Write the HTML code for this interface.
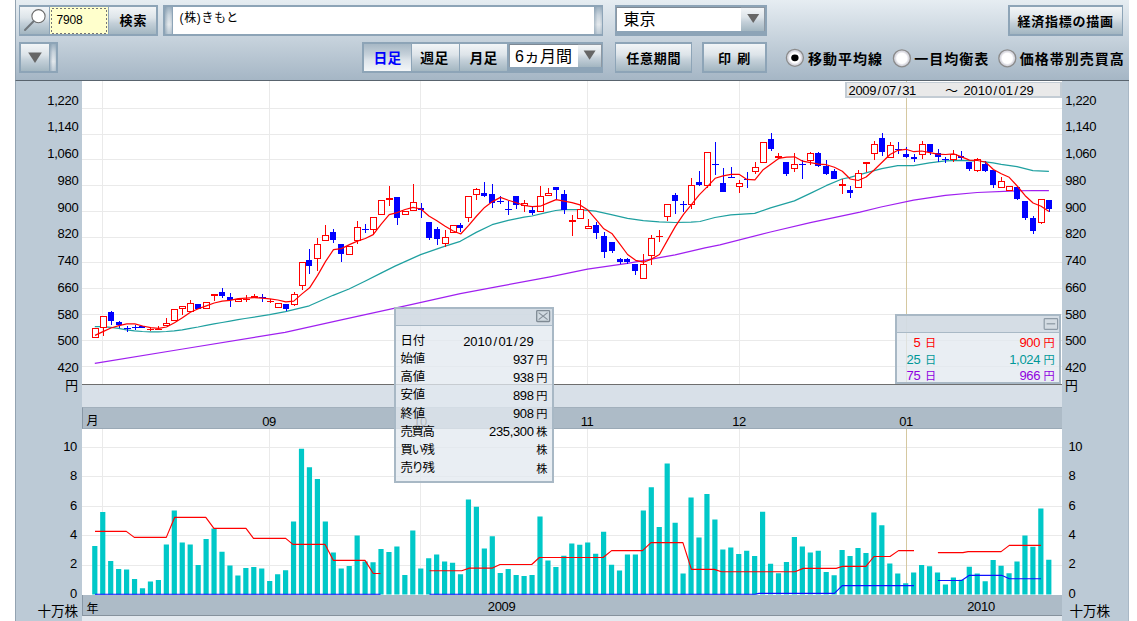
<!DOCTYPE html>
<html lang="ja"><head><meta charset="utf-8"><title>7908 (株)きもと - チャート</title>
<style>
html,body{margin:0;padding:0;background:#fff;}
body{width:1137px;height:621px;position:relative;overflow:hidden;font-family:"Liberation Sans",sans-serif;font-size:13px;color:#000;}
svg text{font-family:"Liberation Sans","Noto Sans CJK JP",sans-serif;}
.abs{position:absolute;box-sizing:border-box;}
#toolbar{left:15px;top:0;width:1113.5px;height:81px;border-left:1px solid #93a3b1;border-bottom:1px solid #59646e;background:linear-gradient(#e6edf2,#a5b6c5);}
.frame{background:#8da4b7;}
.btn{background:linear-gradient(#f2f5f7 0%,#dde4e9 40%,#c4d0d9 60%,#a3b6c1 100%);}
.btn.sel{background:linear-gradient(#a7b8c5 0%,#c6d1da 40%,#dde4ea 60%,#f3f6f8 100%);}
.grip{background:linear-gradient(90deg,rgba(120,145,165,.5),rgba(255,255,255,0) 45%,rgba(255,255,255,0) 70%,rgba(120,145,165,.25)),linear-gradient(180deg,#9db1c1 0%,#c9d4dd 30%,#e3e8ec 65%,#bccad5 100%);}
.white{background:#fff;}
#axisL{left:15px;top:81px;width:67px;height:540px;background:#bccad6;border-left:1px solid #93a3b1;}
#axisR{left:1062px;top:81px;width:66.5px;height:540px;background:#bccad6;border-right:1px solid #a9b8c6;}
#plot{left:82px;top:81px;width:980px;height:304px;background:#fff;border-bottom:1px solid #6e6e6e;}
#band1{left:82px;top:385px;width:980px;height:22px;background:#d8e0e8;}
#band2{left:82px;top:406.5px;width:980px;height:22px;background:#adbbc7;border-left:1px solid #8897a5;border-top:1px solid #a2b0bc;border-bottom:1px solid #9aa9b6;}
#vol{left:82px;top:428.5px;width:980px;height:166px;background:#fff;}
#band3{left:82px;top:594.8px;width:980px;height:21.5px;background:#adbbc7;border-left:1px solid #8897a5;border-bottom:1px solid #86929d;}
#band4{left:82px;top:616.3px;width:980px;height:5px;background:#e3e9ef;}
#range{left:844.5px;top:81.5px;width:217px;height:16.5px;background:#e9e9e9;border:2px solid #c3ccd4;border-top-width:1px;}
.pop{background:rgba(227,233,239,0.77);border:2px solid #a8b8c5;}
.pop .bar{position:absolute;left:0;top:0;right:0;background:rgba(205,215,224,0.75);border-bottom:1.4px solid #a9b9c6;}
.ov{position:absolute;left:0;top:0;}
.radio{position:absolute;width:17.4px;height:17.4px;border-radius:50%;background:radial-gradient(circle closest-side at 50% 50%,#fff 0,#fff 66%,#dcdcdc 76%,#8e8e8e 86%,#8e8e8e 94%,rgba(142,142,142,0) 100%);box-sizing:border-box;}
.radio.on::after{content:"";position:absolute;left:4.9px;top:4.9px;width:7.6px;height:7.6px;border-radius:50%;background:#000;}
</style></head><body>
<div id="toolbar" class="abs"></div>
<!-- row 1 -->
<div class="abs frame" style="left:18.6px;top:5.2px;width:139px;height:30.6px"></div>
<div role="button" aria-label="検索アイコン" class="abs btn" style="left:20.3px;top:7px;width:29px;height:27.2px"></div>
<div class="abs" style="left:50.2px;top:7px;width:57.6px;height:27.2px;background:#ffffcc;"></div>

<div role="button" aria-label="検索" class="abs btn" style="left:108.6px;top:7px;width:47.4px;height:27.2px"></div>
<div class="abs frame" style="left:163px;top:5.2px;width:440.2px;height:30.6px"></div>
<div class="abs grip" style="left:164.8px;top:7px;width:7px;height:27.2px"></div>
<div class="abs white" style="left:172.8px;top:7px;width:421.4px;height:27.2px"></div>
<div class="abs grip" style="left:594.4px;top:7px;width:7.4px;height:27.2px"></div>
<div class="abs frame" style="left:614.5px;top:5.2px;width:152px;height:30.6px"></div>
<div class="abs white" style="left:616.2px;top:6.8px;width:125px;height:24px;border-top:1px solid #7d8893;border-left:1px solid #8d98a3"></div>
<div class="abs btn" style="left:741.2px;top:6.8px;width:24px;height:24px;border-top:1px solid #8d98a3;border-right:1px solid #8d98a3"></div>
<div class="abs frame" style="left:1008.3px;top:5px;width:115px;height:30.8px"></div>
<div role="button" aria-label="経済指標の描画" class="abs btn" style="left:1010px;top:6.8px;width:111.6px;height:27.2px"></div>
<!-- row 2 -->
<div class="abs frame" style="left:18.8px;top:42.2px;width:39px;height:30.4px"></div>
<div class="abs btn" style="left:20.5px;top:44px;width:28.6px;height:26.8px"></div>
<div class="abs grip" style="left:50px;top:44px;width:6.2px;height:26.8px"></div>
<div class="abs frame" style="left:362px;top:42.2px;width:241.2px;height:30.4px"></div>
<div role="button" aria-pressed="true" aria-label="日足" class="abs btn sel" style="left:364px;top:44px;width:46.8px;height:26.8px"></div>
<div role="button" aria-label="週足" class="abs btn" style="left:412px;top:44px;width:46.8px;height:26.8px"></div>
<div role="button" aria-label="月足" class="abs btn" style="left:460px;top:44px;width:47px;height:26.8px"></div>
<div class="abs white" style="left:509.2px;top:43.8px;width:68.4px;height:23.6px;border-top:1px solid #7d8893;border-left:1px solid #8d98a3"></div>
<div class="abs btn" style="left:577.6px;top:43.8px;width:24.4px;height:23.6px;border-top:1px solid #8d98a3;border-right:1px solid #8d98a3"></div>
<div class="abs frame" style="left:614.5px;top:42.2px;width:77.8px;height:30.4px"></div>
<div role="button" aria-label="任意期間" class="abs btn" style="left:616.2px;top:44px;width:74.4px;height:26.8px"></div>
<div class="abs frame" style="left:701.8px;top:42.2px;width:64.8px;height:30.4px"></div>
<div role="button" aria-label="印刷" class="abs btn" style="left:703.5px;top:44px;width:61.4px;height:26.8px"></div>
<!-- chart panels -->
<div id="axisL" class="abs"></div><div id="axisR" class="abs"></div>
<div id="plot" class="abs"></div><div id="band1" class="abs"></div><div id="band2" class="abs"></div>
<div id="vol" class="abs"></div><div id="band3" class="abs"></div><div id="band4" class="abs"></div>
<svg class="ov" width="1137" height="621" viewBox="0 0 1137 621"><path d="M82 108.5H1062M82 134.5H1062M82 159.5H1062M82 185.5H1062M82 211.5H1062M82 237.5H1062M82 262.5H1062M82 288.5H1062M82 314.5H1062M82 340.5H1062M82 366.5H1062M82 447.5H1062M82 476.5H1062M82 506.5H1062M82 535.5H1062M82 565.5H1062M102.5 81V384M102.5 429V594M269.5 81V384M269.5 429V594M420.5 81V384M420.5 429V594M587.5 81V384M587.5 429V594M739.5 81V384M739.5 429V594" stroke="#eaeaea" stroke-width="1" fill="none" shape-rendering="crispEdges"/><path d="M906.5 81V384M906.5 429V594" stroke="#d5c8a0" stroke-width="1" fill="none" shape-rendering="crispEdges"/><path d="M92.20 594.4v-48.4h5.2v48.4zM100.15 594.4v-82.3h5.2v82.3zM108.10 594.4v-33.4h5.2v33.4zM116.05 594.4v-25.5h5.2v25.5zM124.00 594.4v-25.0h5.2v25.0zM131.95 594.4v-15.3h5.2v15.3zM139.90 594.4v-6.2h5.2v6.2zM147.85 594.4v-12.8h5.2v12.8zM155.80 594.4v-14.4h5.2v14.4zM163.75 594.4v-49.8h5.2v49.8zM171.70 594.4v-83.9h5.2v83.9zM179.65 594.4v-51.9h5.2v51.9zM187.60 594.4v-49.8h5.2v49.8zM195.55 594.4v-29.4h5.2v29.4zM203.50 594.4v-55.4h5.2v55.4zM211.45 594.4v-66.0h5.2v66.0zM219.40 594.4v-42.6h5.2v42.6zM227.35 594.4v-29.0h5.2v29.0zM235.30 594.4v-19.0h5.2v19.0zM243.25 594.4v-26.4h5.2v26.4zM251.20 594.4v-27.3h5.2v27.3zM259.15 594.4v-26.0h5.2v26.0zM267.10 594.4v-13.5h5.2v13.5zM275.05 594.4v-20.2h5.2v20.2zM283.00 594.4v-24.2h5.2v24.2zM290.95 594.4v-72.9h5.2v72.9zM298.90 594.4v-145.6h5.2v145.6zM306.85 594.4v-127.1h5.2v127.1zM314.80 594.4v-115.5h5.2v115.5zM322.75 594.4v-72.9h5.2v72.9zM330.70 594.4v-42.0h5.2v42.0zM338.65 594.4v-25.8h5.2v25.8zM346.60 594.4v-28.4h5.2v28.4zM354.55 594.4v-58.8h5.2v58.8zM362.50 594.4v-33.0h5.2v33.0zM370.45 594.4v-32.2h5.2v32.2zM378.40 594.4v-45.4h5.2v45.4zM386.35 594.4v-42.5h5.2v42.5zM394.30 594.4v-47.9h5.2v47.9zM402.25 594.4v-19.3h5.2v19.3zM410.20 594.4v-63.9h5.2v63.9zM418.15 594.4v-25.8h5.2v25.8zM426.10 594.4v-36.1h5.2v36.1zM434.05 594.4v-39.9h5.2v39.9zM442.00 594.4v-33.0h5.2v33.0zM449.95 594.4v-31.7h5.2v31.7zM457.90 594.4v-20.1h5.2v20.1zM465.85 594.4v-94.8h5.2v94.8zM473.80 594.4v-87.6h5.2v87.6zM481.75 594.4v-45.9h5.2v45.9zM489.70 594.4v-58.2h5.2v58.2zM497.65 594.4v-21.4h5.2v21.4zM505.60 594.4v-25.3h5.2v25.3zM513.55 594.4v-19.3h5.2v19.3zM521.50 594.4v-18.3h5.2v18.3zM529.45 594.4v-19.3h5.2v19.3zM537.40 594.4v-77.8h5.2v77.8zM545.35 594.4v-33.8h5.2v33.8zM553.30 594.4v-27.3h5.2v27.3zM561.25 594.4v-38.7h5.2v38.7zM569.20 594.4v-51.0h5.2v51.0zM577.15 594.4v-49.7h5.2v49.7zM585.10 594.4v-51.8h5.2v51.8zM593.05 594.4v-40.7h5.2v40.7zM601.00 594.4v-62.6h5.2v62.6zM608.95 594.4v-29.6h5.2v29.6zM616.90 594.4v-24.0h5.2v24.0zM624.85 594.4v-39.9h5.2v39.9zM632.80 594.4v-39.9h5.2v39.9zM640.75 594.4v-84.0h5.2v84.0zM648.70 594.4v-107.2h5.2v107.2zM656.65 594.4v-67.3h5.2v67.3zM664.60 594.4v-130.9h5.2v130.9zM672.55 594.4v-71.6h5.2v71.6zM680.50 594.4v-20.9h5.2v20.9zM688.45 594.4v-96.9h5.2v96.9zM696.40 594.4v-57.0h5.2v57.0zM704.35 594.4v-100.5h5.2v100.5zM712.30 594.4v-75.0h5.2v75.0zM720.25 594.4v-44.8h5.2v44.8zM728.20 594.4v-46.9h5.2v46.9zM736.15 594.4v-40.5h5.2v40.5zM744.10 594.4v-43.6h5.2v43.6zM752.05 594.4v-38.4h5.2v38.4zM760.00 594.4v-82.7h5.2v82.7zM767.95 594.4v-30.7h5.2v30.7zM775.90 594.4v-21.1h5.2v21.1zM783.85 594.4v-32.5h5.2v32.5zM791.80 594.4v-57.5h5.2v57.5zM799.75 594.4v-47.9h5.2v47.9zM807.70 594.4v-42.0h5.2v42.0zM815.65 594.4v-43.6h5.2v43.6zM823.60 594.4v-22.4h5.2v22.4zM831.55 594.4v-19.1h5.2v19.1zM839.50 594.4v-44.3h5.2v44.3zM847.45 594.4v-38.4h5.2v38.4zM855.40 594.4v-46.4h5.2v46.4zM863.35 594.4v-41.5h5.2v41.5zM871.30 594.4v-82.0h5.2v82.0zM879.25 594.4v-69.1h5.2v69.1zM887.20 594.4v-30.9h5.2v30.9zM895.15 594.4v-20.9h5.2v20.9zM903.10 594.4v-11.1h5.2v11.1zM911.05 594.4v-21.9h5.2v21.9zM919.00 594.4v-29.4h5.2v29.4zM926.95 594.4v-28.1h5.2v28.1zM934.90 594.4v-21.9h5.2v21.9zM942.85 594.4v-10.0h5.2v10.0zM950.80 594.4v-17.0h5.2v17.0zM958.75 594.4v-14.7h5.2v14.7zM966.70 594.4v-27.6h5.2v27.6zM974.65 594.4v-20.9h5.2v20.9zM982.60 594.4v-13.1h5.2v13.1zM990.55 594.4v-34.5h5.2v34.5zM998.50 594.4v-28.6h5.2v28.6zM1006.45 594.4v-21.1h5.2v21.1zM1014.40 594.4v-33.0h5.2v33.0zM1022.35 594.4v-58.8h5.2v58.8zM1030.30 594.4v-47.7h5.2v47.7zM1038.25 594.4v-85.8h5.2v85.8zM1046.20 594.4v-34.6h5.2v34.6z" fill="#00c8c8"/><polyline points="95.0,531.4 126.3,531.4 134.3,537.4 166.3,537.4 174.7,517.3 205.8,517.3 213.9,528.4 246.0,528.4 253.5,538.4 285.7,538.4 292.9,544.4 325.1,544.4 333.4,560.4 365.0,560.4 373.3,573.5 380.5,573.5" fill="none" stroke="#ff0000" stroke-width="1.15" stroke-linejoin="round"/><polyline points="429.5,570.7 461.7,570.7 469.4,568.1 492.5,568.1 500.0,564.5 531.7,564.5 539.4,557.5 603.1,557.5 611.6,550.6 642.5,550.6 651.0,542.6 682.9,542.6 691.4,569.4 714.3,569.4 721.5,571.7 795.0,571.7 803.2,568.4 836.2,568.4 842.7,566.3 865.9,566.3 874.0,556.5 890.0,556.5 898.5,550.6 914.0,550.6" fill="none" stroke="#ff0000" stroke-width="1.15" stroke-linejoin="round"/><polyline points="937.9,552.6 962.9,552.6 968.1,551.6 1001.1,551.6 1009.3,545.4 1041.0,545.4" fill="none" stroke="#ff0000" stroke-width="1.15" stroke-linejoin="round"/><polyline points="95.0,594.2 380.5,594.2" fill="none" stroke="#1010ff" stroke-width="1.15" stroke-linejoin="round"/><polyline points="429.5,594.2 755.0,594.2 758.9,593.4 834.4,593.4 842.2,585.6 914.0,585.6" fill="none" stroke="#1010ff" stroke-width="1.15" stroke-linejoin="round"/><polyline points="937.9,580.5 961.6,580.5 969.4,575.3 1001.6,575.3 1009.3,578.7 1041.0,578.7" fill="none" stroke="#1010ff" stroke-width="1.15" stroke-linejoin="round"/><polyline points="94.8,363.4 182.8,349.0 285.0,332.3 341.3,319.8 395.0,308.1 409.9,304.8 460.3,293.6 500.3,286.1 550.0,276.8 587.5,269.2 627.5,263.3 651.3,259.1 675.1,254.9 705.0,247.9 719.9,244.8 770.5,232.0 810.3,222.6 860.0,212.1 881.0,207.0 913.6,200.2 945.4,195.3 977.2,192.5 1010.0,191.1 1032.9,190.5 1048.9,190.5" fill="none" stroke="#a020f0" stroke-width="1.25" stroke-linejoin="round"/><polyline points="94.8,326.6 102.7,326.7 110.8,327.4 118.6,328.4 126.5,329.8 134.5,330.8 142.4,331.5 150.3,331.9 158.3,331.9 166.3,331.5 174.2,330.8 182.2,329.8 190.3,328.4 198.1,327.0 206.2,325.3 214.0,323.9 222.1,322.5 230.0,321.1 238.0,319.7 245.0,318.5 269.6,314.7 285.5,311.6 309.3,305.8 333.1,295.3 349.0,289.0 364.9,281.3 381.0,273.1 390.0,268.6 395.0,266.1 420.6,254.6 444.4,246.4 460.3,241.3 476.2,232.4 492.1,224.7 508.2,220.3 524.1,217.2 532.0,216.0 545.0,212.9 555.7,210.5 563.7,209.6 579.6,209.6 595.5,211.2 611.3,214.7 627.5,218.3 643.3,220.6 659.2,221.8 675.1,222.5 691.0,222.2 700.0,221.5 714.9,217.5 730.8,214.9 754.7,213.3 770.5,207.9 794.4,200.9 810.3,193.4 826.1,185.7 842.0,179.0 850.0,177.4 865.9,172.8 881.8,168.6 897.7,165.7 913.6,165.7 929.5,162.9 945.4,160.8 961.3,160.4 977.2,161.1 985.1,161.9 993.1,162.9 1001.2,164.4 1017.0,166.7 1032.9,170.6 1048.9,171.4" fill="none" stroke="#1fa0a0" stroke-width="1.25" stroke-linejoin="round"/><g shape-rendering="crispEdges"><path d="M103.5 328V336M150.5 327V329M150.5 329V331M147.0 329.5h7M158.5 326V329M155.0 329.5h7M166.5 318V323M182.5 309V315M190.5 300V303M206.5 302V302M214.5 296V301M238.5 298V299M246.5 295V299M246.5 299V302M243.0 299.5h7M254.5 294V296M270.5 299V301M270.5 301V303M267.0 301.5h7M294.5 292V294M294.5 305V306M302.5 286V290M317.5 238V244M317.5 259V271M325.5 225V235M357.5 221V227M357.5 241V244M373.5 230V235M381.5 215V215M389.5 186V198M389.5 200V206M413.5 184V202M445.5 230V237M445.5 244V247M468.5 218V222M476.5 188V189M476.5 195V200M524.5 200V203M524.5 206V212M540.5 186V196M548.5 188V193M572.5 215V220M572.5 221V236M580.5 200V209M588.5 219V226M643.5 254V264M651.5 235V238M651.5 256V265M659.5 230V236M659.5 236V242M656.0 236.5h7M667.5 217V221M691.5 178V185M691.5 205V209M707.5 186V188M739.5 180V183M739.5 187V193M755.5 162V167M755.5 172V174M778.5 153V156M778.5 157V159M794.5 153V164M794.5 169V172M810.5 152V153M810.5 161V165M842.5 179V184M842.5 185V194M858.5 170V173M866.5 163V172M874.5 141V144M874.5 154V160M890.5 142V145M922.5 141V144M922.5 155V159M953.5 150V154M953.5 160V162M977.5 158V159M977.5 171V172M1001.5 177V181M1041.5 223V224" stroke="#ff0000" stroke-width="1" fill="none"/><path d="M92.5 328.5h6v9h-6zM100.5 316.5h6v11h-6zM163.5 323.5h6v2h-6zM171.5 309.5h6v11h-6zM179.5 306.5h6v2h-6zM187.5 303.5h6v8h-6zM203.5 302.5h6v6h-6zM211.5 294.5h6v1h-6zM235.5 299.5h6v2h-6zM251.5 296.5h6v1h-6zM275.5 303.5h6v4h-6zM291.5 294.5h6v10h-6zM299.5 262.5h6v23h-6zM314.5 244.5h6v14h-6zM322.5 235.5h6v5h-6zM346.5 246.5h6v8h-6zM354.5 227.5h6v13h-6zM370.5 217.5h6v12h-6zM378.5 200.5h6v14h-6zM386.5 198.5h6v1h-6zM402.5 211.5h6v3h-6zM410.5 202.5h6v8h-6zM442.5 237.5h6v6h-6zM450.5 225.5h6v7h-6zM465.5 196.5h6v21h-6zM473.5 189.5h6v5h-6zM521.5 203.5h6v2h-6zM537.5 196.5h6v15h-6zM545.5 193.5h6v2h-6zM569.5 220.5h6v1h-6zM577.5 209.5h6v9h-6zM585.5 226.5h6v2h-6zM640.5 264.5h6v14h-6zM648.5 238.5h6v17h-6zM664.5 204.5h6v12h-6zM688.5 185.5h6v19h-6zM704.5 152.5h6v33h-6zM736.5 183.5h6v3h-6zM752.5 167.5h6v4h-6zM760.5 142.5h6v20h-6zM775.5 156.5h6v1h-6zM791.5 164.5h6v4h-6zM807.5 153.5h6v7h-6zM839.5 184.5h6v1h-6zM855.5 173.5h6v14h-6zM863.5 162.5h6v1h-6zM871.5 144.5h6v9h-6zM887.5 145.5h6v12h-6zM919.5 144.5h6v10h-6zM950.5 154.5h6v5h-6zM974.5 159.5h6v11h-6zM998.5 181.5h6v6h-6zM1006.5 186.5h6v4h-6zM1038.5 199.5h6v23h-6z" stroke="#ff0000" stroke-width="1" fill="#fff"/><path d="M111.5 311V325M119.5 321V328M127.5 326V332M124.0 328.5h7M135.5 325V330M132.0 327.5h7M142.5 326V328M198.5 304V309M222.5 288V298M230.5 293V307M262.5 294V302M259.0 297.5h7M286.5 304V311M309.5 249V274M333.5 229V243M341.5 244V262M365.5 224V233M362.0 229.5h7M397.5 197V225M421.5 203V218M429.5 222V240M437.5 227V245M460.5 223V232M484.5 182V197M492.5 184V208M500.5 196V204M497.0 201.5h7M508.5 201V215M505.0 209.5h7M516.5 196V209M532.5 207V215M556.5 187V199M564.5 190V214M596.5 222V239M604.5 232V258M612.5 242V253M620.5 258V264M627.5 258V264M635.5 264V275M675.5 193V214M683.5 201V212M680.0 204.5h7M699.5 171V186M715.5 142V175M712.0 164.5h7M723.5 168V192M731.5 167V177M728.0 177.5h7M747.5 172V188M744.0 179.5h7M771.5 133V151M786.5 162V176M802.5 160V179M799.0 164.5h7M818.5 152V167M826.5 160V175M834.5 169V179M850.5 186V198M882.5 133V156M898.5 142V154M895.0 149.5h7M906.5 147V158M914.5 154V162M930.5 144V155M938.5 149V162M945.5 157V163M942.0 159.5h7M961.5 151V160M969.5 162V171M985.5 161V172M993.5 170V188M1017.5 187V200M1025.5 201V220M1033.5 216V234M1049.5 200V212" stroke="#0000ff" stroke-width="1" fill="none"/><path d="M108.0 312h6v9h-6zM116.0 322h6v3h-6zM139.0 326h6v2h-6zM195.0 304h6v5h-6zM219.0 292h6v4h-6zM227.0 297h6v3h-6zM283.0 304h6v5h-6zM306.0 260h6v6h-6zM330.0 232h6v8h-6zM338.0 244h6v10h-6zM394.0 197h6v21h-6zM418.0 208h6v2h-6zM426.0 222h6v16h-6zM434.0 229h6v10h-6zM457.0 225h6v3h-6zM481.0 193h6v3h-6zM489.0 194h6v9h-6zM513.0 196h6v9h-6zM529.0 210h6v3h-6zM553.0 187h6v3h-6zM561.0 194h6v16h-6zM593.0 225h6v8h-6zM601.0 236h6v16h-6zM609.0 242h6v9h-6zM617.0 259h6v3h-6zM624.0 259h6v3h-6zM632.0 264h6v7h-6zM672.0 195h6v6h-6zM696.0 182h6v3h-6zM720.0 183h6v9h-6zM768.0 139h6v10h-6zM783.0 162h6v12h-6zM815.0 153h6v13h-6zM823.0 166h6v8h-6zM831.0 171h6v8h-6zM847.0 190h6v3h-6zM879.0 138h6v14h-6zM903.0 154h6v3h-6zM911.0 157h6v2h-6zM927.0 144h6v8h-6zM935.0 153h6v4h-6zM958.0 156h6v2h-6zM966.0 162h6v7h-6zM982.0 164h6v7h-6zM990.0 170h6v15h-6zM1014.0 187h6v12h-6zM1022.0 201h6v17h-6zM1030.0 218h6v13h-6zM1046.0 200h6v9h-6z" fill="#0000ff"/></g><polyline points="95.0,335.4 103.0,331.6 110.9,328.0 118.9,325.6 126.8,323.9 134.8,323.9 142.7,326.0 150.6,327.7 158.6,328.4 166.5,327.0 174.5,322.8 182.4,317.8 190.4,312.2 198.3,308.7 206.3,305.9 214.2,303.0 222.2,301.2 230.1,300.3 238.1,298.6 246.1,298.1 254.0,297.6 261.9,298.1 269.9,298.8 277.8,300.0 285.8,301.8 293.8,301.1 301.7,294.1 309.6,287.8 317.6,275.4 325.6,261.4 333.5,249.7 341.4,248.6 349.4,244.6 357.4,241.1 365.3,238.5 373.2,234.6 381.2,224.1 389.2,214.7 397.1,212.6 405.1,209.5 413.0,207.4 420.9,209.0 428.9,216.0 436.9,220.7 444.8,225.9 452.8,230.8 460.7,234.0 468.7,225.4 476.6,216.0 484.6,207.4 492.5,201.6 500.4,197.4 508.4,200.2 516.4,202.7 524.3,205.5 532.2,206.7 540.2,206.2 548.2,202.9 556.1,199.6 564.1,201.2 572.0,202.6 580.0,204.9 587.9,210.1 595.9,219.4 603.8,228.8 611.8,233.4 619.7,243.9 627.6,254.5 635.6,260.3 643.6,262.2 651.5,259.1 659.5,254.5 667.4,240.4 675.4,226.4 683.3,214.7 691.2,204.9 699.2,194.9 707.1,186.9 715.1,178.3 723.1,175.9 731.0,174.3 739.0,174.3 746.9,179.4 754.9,179.9 762.8,170.1 770.8,164.2 778.7,158.4 786.6,157.2 794.6,156.8 802.6,161.2 810.5,162.6 818.5,164.2 826.4,164.7 834.4,167.3 842.3,171.2 850.2,179.0 858.2,180.5 866.1,177.0 874.1,170.0 882.1,162.2 890.0,154.5 898.0,150.3 905.9,149.3 913.9,151.7 921.8,151.0 929.8,152.6 937.7,154.2 945.6,154.5 953.6,153.8 961.6,156.9 969.5,160.1 977.5,160.5 985.4,162.0 993.4,169.5 1001.3,173.8 1009.2,177.3 1017.2,186.0 1025.2,195.7 1033.1,203.0 1041.1,206.3 1049.0,211.5" fill="none" stroke="#ff0000" stroke-width="1.2" stroke-linejoin="round"/></svg>
<div id="range" class="abs"></div>
<svg class="ov" width="1137" height="621" viewBox="0 0 1137 621">
<!-- icons -->
<defs><radialGradient id="rg" cx="50%" cy="50%" r="50%"><stop offset="0" stop-color="#fff"/><stop offset="0.6" stop-color="#fff"/><stop offset="0.78" stop-color="#dcdce3"/><stop offset="1" stop-color="#d2d2da"/></radialGradient></defs>
<g><circle cx="794.9" cy="57.8" r="8.5" fill="url(#rg)" stroke="#8b8b8b" stroke-width="1.3"/><ellipse cx="794.9" cy="57.8" rx="3.7" ry="3.35"/>
<circle cx="901.9" cy="58.3" r="8.5" fill="url(#rg)" stroke="#8b8b8b" stroke-width="1.3"/>
<circle cx="1007.3" cy="58.3" r="8.5" fill="url(#rg)" stroke="#8b8b8b" stroke-width="1.3"/></g>

<circle cx="38.5" cy="16.2" r="6.6" fill="#fff" stroke="#6a6a6a" stroke-width="1.1"/>
<line x1="33.6" y1="21.2" x2="25" y2="30" stroke="#70767c" stroke-width="2" stroke-linecap="round"/>
<rect x="51.5" y="8.5" width="55" height="24.5" fill="none" stroke="#777" stroke-width="1" stroke-dasharray="2 2" shape-rendering="crispEdges"/>
<path d="M28.2 52.6h13.6l-6.8 10.4z" fill="#666"/>
<path d="M747.2 14h12l-6 9z" fill="#666"/>
<path d="M583.6 50.6h12l-6 9.2z" fill="#666"/>
<text x="56.40" y="23.80" font-size="12" fill="#000" text-anchor="start" letter-spacing="-0.1">7908</text><text x="119.40" y="25.20" font-size="13" font-weight="bold" fill="#000" letter-spacing="1">検索</text><text x="179.60" y="21.80" font-size="12" fill="#000" letter-spacing="0.6">(株)きもと</text><text x="623.50" y="24.60" font-size="16" fill="#000">東京</text><text x="1017.60" y="25.60" font-size="13" font-weight="bold" fill="#000" letter-spacing="0.75">経済指標の描画</text><text x="373.40" y="62.90" font-size="13.8" font-weight="bold" fill="#0000ff" letter-spacing="0.4">日足</text><text x="420.20" y="62.90" font-size="13.8" font-weight="bold" fill="#000" letter-spacing="0.4">週足</text><text x="469.40" y="62.90" font-size="13.8" font-weight="bold" fill="#000" letter-spacing="0.4">月足</text><text x="515.00" y="61.60" font-size="16" fill="#000">6ヵ月間</text><text x="626.30" y="63.00" font-size="13" font-weight="bold" fill="#000" letter-spacing="0.75">任意期間</text><text x="718.10" y="63.00" font-size="13" font-weight="bold" fill="#000" letter-spacing="1.3" xml:space="preserve">印 刷</text><text x="808.00" y="63.60" font-size="14" font-weight="bold" fill="#000" letter-spacing="1">移動平均線</text><text x="914.20" y="63.60" font-size="14" font-weight="bold" fill="#000" letter-spacing="1">一目均衡表</text><text x="1019.80" y="63.60" font-size="14" font-weight="bold" fill="#000" letter-spacing="1">価格帯別売買高</text><text x="848.50" y="95.00" font-size="13" fill="#000" text-anchor="start" letter-spacing="-0.35">2009<tspan dx="1.45">/</tspan><tspan dx="1.45">07</tspan><tspan dx="1.45">/</tspan><tspan dx="1.45">31</tspan></text><text x="945.00" y="94.60" font-size="13" fill="#000">～</text><text x="963.40" y="95.00" font-size="13" fill="#000" text-anchor="start" letter-spacing="-0.05">2010<tspan dx="1.45">/</tspan><tspan dx="1.45">01</tspan><tspan dx="1.45">/</tspan><tspan dx="1.45">29</tspan></text><text x="78.40" y="104.50" font-size="13" fill="#000" text-anchor="end" letter-spacing="-0.3">1,220</text><text x="1065.20" y="104.50" font-size="13" fill="#000" text-anchor="start" letter-spacing="-0.3">1,220</text><text x="78.40" y="131.26" font-size="13" fill="#000" text-anchor="end" letter-spacing="-0.3">1,140</text><text x="1065.20" y="131.26" font-size="13" fill="#000" text-anchor="start" letter-spacing="-0.3">1,140</text><text x="78.40" y="158.02" font-size="13" fill="#000" text-anchor="end" letter-spacing="-0.3">1,060</text><text x="1065.20" y="158.02" font-size="13" fill="#000" text-anchor="start" letter-spacing="-0.3">1,060</text><text x="78.40" y="184.78" font-size="13" fill="#000" text-anchor="end" letter-spacing="-0.3">980</text><text x="1065.20" y="184.78" font-size="13" fill="#000" text-anchor="start" letter-spacing="-0.3">980</text><text x="78.40" y="211.54" font-size="13" fill="#000" text-anchor="end" letter-spacing="-0.3">900</text><text x="1065.20" y="211.54" font-size="13" fill="#000" text-anchor="start" letter-spacing="-0.3">900</text><text x="78.40" y="238.30" font-size="13" fill="#000" text-anchor="end" letter-spacing="-0.3">820</text><text x="1065.20" y="238.30" font-size="13" fill="#000" text-anchor="start" letter-spacing="-0.3">820</text><text x="78.40" y="265.06" font-size="13" fill="#000" text-anchor="end" letter-spacing="-0.3">740</text><text x="1065.20" y="265.06" font-size="13" fill="#000" text-anchor="start" letter-spacing="-0.3">740</text><text x="78.40" y="291.82" font-size="13" fill="#000" text-anchor="end" letter-spacing="-0.3">660</text><text x="1065.20" y="291.82" font-size="13" fill="#000" text-anchor="start" letter-spacing="-0.3">660</text><text x="78.40" y="318.58" font-size="13" fill="#000" text-anchor="end" letter-spacing="-0.3">580</text><text x="1065.20" y="318.58" font-size="13" fill="#000" text-anchor="start" letter-spacing="-0.3">580</text><text x="78.40" y="345.34" font-size="13" fill="#000" text-anchor="end" letter-spacing="-0.3">500</text><text x="1065.20" y="345.34" font-size="13" fill="#000" text-anchor="start" letter-spacing="-0.3">500</text><text x="78.40" y="372.10" font-size="13" fill="#000" text-anchor="end" letter-spacing="-0.3">420</text><text x="1065.20" y="372.10" font-size="13" fill="#000" text-anchor="start" letter-spacing="-0.3">420</text><text x="65.30" y="389.80" font-size="12.8" fill="#000">円</text><text x="1064.90" y="389.80" font-size="12.8" fill="#000">円</text><text x="77.00" y="450.70" font-size="13" fill="#000" text-anchor="end" letter-spacing="-0.3">10</text><text x="1068.40" y="450.70" font-size="13" fill="#000" text-anchor="start" letter-spacing="-0.3">10</text><text x="77.00" y="480.13" font-size="13" fill="#000" text-anchor="end" letter-spacing="-0.3">8</text><text x="1068.40" y="480.13" font-size="13" fill="#000" text-anchor="start" letter-spacing="-0.3">8</text><text x="77.00" y="509.56" font-size="13" fill="#000" text-anchor="end" letter-spacing="-0.3">6</text><text x="1068.40" y="509.56" font-size="13" fill="#000" text-anchor="start" letter-spacing="-0.3">6</text><text x="77.00" y="538.99" font-size="13" fill="#000" text-anchor="end" letter-spacing="-0.3">4</text><text x="1068.40" y="538.99" font-size="13" fill="#000" text-anchor="start" letter-spacing="-0.3">4</text><text x="77.00" y="568.42" font-size="13" fill="#000" text-anchor="end" letter-spacing="-0.3">2</text><text x="1068.40" y="568.42" font-size="13" fill="#000" text-anchor="start" letter-spacing="-0.3">2</text><text x="77.00" y="597.85" font-size="13" fill="#000" text-anchor="end" letter-spacing="-0.3">0</text><text x="1068.40" y="597.85" font-size="13" fill="#000" text-anchor="start" letter-spacing="-0.3">0</text><text x="37.40" y="615.60" font-size="13.6" fill="#000">十万株</text><text x="1069.40" y="615.60" font-size="13.6" fill="#000">十万株</text><text x="86.40" y="424.60" font-size="12" fill="#000">月</text><text x="269.10" y="426.40" font-size="13" fill="#000" text-anchor="middle" letter-spacing="-0.3">09</text><text x="420.10" y="426.40" font-size="13" fill="#000" text-anchor="middle" letter-spacing="-0.3">10</text><text x="587.10" y="426.40" font-size="13" fill="#000" text-anchor="middle" letter-spacing="-0.3">11</text><text x="739.10" y="426.40" font-size="13" fill="#000" text-anchor="middle" letter-spacing="-0.3">12</text><text x="906.10" y="426.40" font-size="13" fill="#000" text-anchor="middle" letter-spacing="-0.3">01</text><text x="86.60" y="613.00" font-size="12" fill="#000">年</text><text x="501.60" y="610.80" font-size="13" fill="#000" text-anchor="middle" letter-spacing="-0.3">2009</text><text x="981.00" y="610.80" font-size="13" fill="#000" text-anchor="middle" letter-spacing="-0.3">2010</text></svg>
<!-- tooltip -->
<div class="abs pop" style="left:394.4px;top:307px;width:159.2px;height:175.6px"><div class="bar" style="height:15.6px"></div></div>
<div class="abs pop" style="left:895.2px;top:314.4px;width:166px;height:70px"><div class="bar" style="height:16px"></div></div>
<svg class="ov" width="1137" height="621" viewBox="0 0 1137 621">
<rect x="536.7" y="310.6" width="12.9" height="10.9" rx="0.8" fill="#d1dae1" stroke="#7f8a94" stroke-width="1.3"/>
<path d="M538.6 312.6l9 7M547.6 312.6l-9 7" stroke="#858f99" stroke-width="1.2" fill="none"/>
<rect x="1044.2" y="318.6" width="13.4" height="10.8" rx="0.8" fill="#d3dbe2" stroke="#8e9ba7" stroke-width="1.2"/>
<path d="M1046.6 323.8h8.6" stroke="#8a96a1" stroke-width="1.2"/>
<text x="400.40" y="345.10" font-size="12.4" fill="#000">日付</text><text x="533.60" y="345.60" font-size="13" fill="#000" text-anchor="end" letter-spacing="-0.05">2010<tspan dx="1.45">/</tspan><tspan dx="1.45">01</tspan><tspan dx="1.45">/</tspan><tspan dx="1.45">29</tspan></text><text x="400.40" y="363.22" font-size="12.4" fill="#000">始値</text><text x="533.60" y="363.72" font-size="13" fill="#000" text-anchor="end" letter-spacing="-0.35">937</text><text x="536.20" y="363.82" font-size="11.2" fill="#000">円</text><text x="400.40" y="381.34" font-size="12.4" fill="#000">高値</text><text x="533.60" y="381.84" font-size="13" fill="#000" text-anchor="end" letter-spacing="-0.35">938</text><text x="536.20" y="381.94" font-size="11.2" fill="#000">円</text><text x="400.40" y="399.46" font-size="12.4" fill="#000">安値</text><text x="533.60" y="399.96" font-size="13" fill="#000" text-anchor="end" letter-spacing="-0.35">898</text><text x="536.20" y="400.06" font-size="11.2" fill="#000">円</text><text x="400.40" y="417.58" font-size="12.4" fill="#000">終値</text><text x="533.60" y="418.08" font-size="13" fill="#000" text-anchor="end" letter-spacing="-0.35">908</text><text x="536.20" y="418.18" font-size="11.2" fill="#000">円</text><text x="400.40" y="435.70" font-size="12.4" fill="#000" letter-spacing="-1.3">売買高</text><text x="533.60" y="436.20" font-size="13" fill="#000" text-anchor="end" letter-spacing="-0.35">235,300</text><text x="536.20" y="436.30" font-size="11.2" fill="#000">株</text><text x="400.40" y="453.82" font-size="12.4" fill="#000" letter-spacing="-1.3">買い残</text><text x="536.20" y="454.42" font-size="11.2" fill="#000">株</text><text x="400.40" y="471.94" font-size="12.4" fill="#000" letter-spacing="-1.3">売り残</text><text x="536.20" y="472.54" font-size="11.2" fill="#000">株</text><text x="920.40" y="347.20" font-size="13" fill="#ff0000" text-anchor="end" letter-spacing="-0.3">5</text><text x="924.90" y="347.30" font-size="11.2" fill="#ff0000">日</text><text x="1040.20" y="347.20" font-size="13" fill="#ff0000" text-anchor="end" letter-spacing="-0.3">900</text><text x="1043.60" y="347.30" font-size="11.2" fill="#ff0000">円</text><text x="920.40" y="363.60" font-size="13" fill="#009898" text-anchor="end" letter-spacing="-0.3">25</text><text x="924.90" y="363.70" font-size="11.2" fill="#009898">日</text><text x="1040.20" y="363.60" font-size="13" fill="#009898" text-anchor="end" letter-spacing="-0.3">1,024</text><text x="1043.60" y="363.70" font-size="11.2" fill="#009898">円</text><text x="920.40" y="380.00" font-size="13" fill="#9000e0" text-anchor="end" letter-spacing="-0.3">75</text><text x="924.90" y="380.10" font-size="11.2" fill="#9000e0">日</text><text x="1040.20" y="380.00" font-size="13" fill="#9000e0" text-anchor="end" letter-spacing="-0.3">966</text><text x="1043.60" y="380.10" font-size="11.2" fill="#9000e0">円</text></svg>
</body></html>
